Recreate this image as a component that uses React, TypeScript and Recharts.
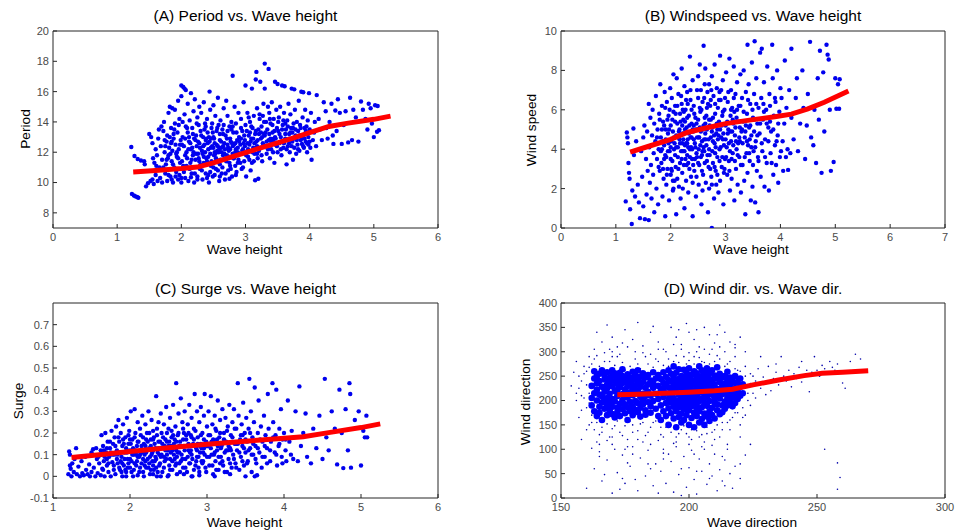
import React from 'react';
import { ScatterChart, Scatter, XAxis, YAxis } from 'recharts';

type Pt = [number, number];

// ---------- (A) Period vs. Wave height ----------
const periodXTicks = [0, 1, 2, 3, 4, 5, 6];
const periodYTicks = [8, 10, 12, 14, 16, 18, 20];
const periodPts: Pt[] = [
  [1.22,12.35],[1.23,9.25],[1.26,9.15],[1.28,9.1],[1.31,9.05],[1.33,9.0],[1.27,11.75],[1.32,11.55],[1.37,11.45],[1.42,11.4],[1.45,9.75],[1.48,9.95],[1.43,11.2],
  [1.5,13.2],[1.53,13.0],[1.55,12.6],[1.52,10.1],[1.55,10.2],[1.57,9.9],[1.58,11.3],[1.6,12.2],[1.6,10.5],[1.62,11.8],[1.63,10.1],[1.64,12.9],[1.65,13.5],[1.66,11.0],[1.67,10.3],[1.68,12.4],[1.69,13.7],[1.7,11.5],[1.7,10.0],[1.61,11.1],[1.56,11.6],
  [1.72,13.4],[1.73,14.0],[1.74,12.0],[1.75,10.6],[1.76,11.2],[1.77,12.7],[1.78,10.1],[1.78,13.1],[1.8,14.6],[1.8,11.8],[1.81,12.3],[1.82,15.0],[1.83,10.4],[1.84,13.6],[1.85,11.4],[1.86,14.9],[1.86,12.1],[1.87,10.0],[1.88,12.9],[1.89,11.0],[1.9,13.9],[1.9,14.8],[1.91,12.5],[1.92,10.7],[1.93,11.7],[1.94,13.3],[1.95,15.4],[1.95,10.2],[1.96,12.2],[1.97,14.2],[1.98,11.3],[1.99,12.8],[2.0,15.7],[2.0,10.0],[1.79,11.6],[1.84,12.6],[1.88,13.2],[1.92,11.9],[1.97,10.5],[1.74,12.8],
  [2.0,16.4],[2.03,16.3],[2.05,16.2],[2.07,16.1],[2.02,13.0],[2.03,11.1],[2.04,12.4],[2.05,14.5],[2.06,10.3],[2.07,13.7],[2.08,12.0],[2.09,11.6],[2.1,15.2],[2.1,13.3],[2.11,10.1],[2.12,12.7],[2.13,14.1],[2.14,11.3],[2.15,15.9],[2.15,12.2],[2.16,10.6],[2.17,13.6],[2.18,11.8],[2.19,14.7],[2.2,12.9],[2.2,10.0],[2.21,15.5],[2.22,11.5],[2.23,13.1],[2.24,12.4],[2.25,14.3],[2.25,10.4],[2.26,11.9],[2.27,13.8],[2.28,12.6],[2.28,15.0],[2.29,10.9],[2.3,13.4],[2.3,11.2],[2.01,12.5],[2.06,11.8],[2.12,13.0],[2.17,12.3],[2.22,12.8],[2.27,11.6],
  [2.31,14.6],[2.32,12.1],[2.33,10.2],[2.34,13.0],[2.35,15.3],[2.35,11.7],[2.36,12.5],[2.37,13.9],[2.38,10.6],[2.39,12.9],[2.4,14.2],[2.4,11.4],[2.41,13.3],[2.42,12.2],[2.43,10.0],[2.44,16.0],[2.44,12.7],[2.45,14.8],[2.46,11.1],[2.47,13.6],[2.48,12.4],[2.49,10.4],[2.5,13.0],[2.5,15.1],[2.51,11.8],[2.52,12.6],[2.53,14.4],[2.54,10.9],[2.55,13.4],[2.55,11.5],[2.56,12.1],[2.57,15.6],[2.58,13.8],[2.59,10.1],[2.6,12.8],[2.6,11.2],[2.33,11.9],[2.38,12.8],[2.42,11.7],[2.46,12.9],[2.5,12.3],[2.53,11.9],[2.57,12.4],[2.36,13.5],[2.48,13.9],[2.58,12.0],[2.45,10.7],[2.52,10.5],
  [2.61,14.1],[2.62,12.3],[2.63,10.6],[2.64,13.5],[2.65,11.8],[2.66,14.9],[2.67,12.6],[2.68,10.2],[2.69,13.1],[2.7,11.4],[2.7,15.4],[2.71,12.9],[2.72,14.4],[2.73,10.8],[2.74,12.1],[2.75,13.7],[2.76,11.1],[2.77,12.7],[2.78,14.0],[2.79,10.4],[2.8,17.05],[2.8,12.4],[2.81,13.3],[2.82,11.6],[2.83,15.0],[2.84,12.0],[2.85,13.9],[2.86,10.7],[2.87,12.8],[2.88,11.3],[2.89,14.6],[2.9,13.0],[2.63,12.0],[2.67,11.5],[2.72,12.5],[2.76,12.2],[2.8,11.9],[2.84,12.6],[2.88,12.3],[2.65,13.2],[2.78,13.5],[2.74,11.7],
  [2.91,11.9],[2.92,12.5],[2.93,14.2],[2.94,10.9],[2.95,13.4],[2.96,12.2],[2.97,15.3],[2.98,11.4],[2.99,12.8],[3.0,16.4],[3.0,13.8],[3.01,10.4],[3.02,12.0],[3.03,14.6],[3.04,11.7],[3.05,13.1],[3.06,12.5],[3.07,14.0],[3.08,10.8],[3.09,12.9],[3.1,16.2],[3.1,11.3],[3.11,13.6],[3.12,12.3],[3.13,14.4],[3.14,11.9],[3.15,10.15],[3.15,13.2],[3.16,16.8],[3.17,12.7],[3.17,17.3],[3.18,14.9],[3.19,11.6],[3.2,10.25],[3.2,13.5],[2.93,12.9],[2.97,12.6],[3.03,12.6],[3.07,13.3],[3.12,12.9],[3.18,12.4],[3.05,14.3],
  [3.21,12.1],[3.22,14.2],[3.22,14.5],[3.23,16.65],[3.24,12.9],[3.25,13.7],[3.26,11.4],[3.27,14.4],[3.27,12.6],[3.28,15.2],[3.29,13.2],[3.3,17.85],[3.3,16.2],[3.31,12.4],[3.32,14.0],[3.33,11.9],[3.34,13.5],[3.35,15.0],[3.36,17.5],[3.36,12.8],[3.37,14.6],[3.38,11.6],[3.39,13.9],[3.4,12.2],[3.41,15.3],[3.42,13.3],[3.43,12.7],[3.44,14.2],[3.45,11.3],[3.46,16.65],[3.46,13.0],[3.47,12.5],[3.48,14.8],[3.49,13.6],[3.5,16.5],[3.5,12.0],[3.24,13.3],[3.3,13.1],[3.39,12.9],[3.44,12.9],
  [3.51,13.4],[3.52,14.3],[3.53,12.6],[3.54,15.0],[3.55,13.0],[3.56,11.8],[3.57,16.4],[3.58,13.8],[3.59,12.3],[3.6,14.6],[3.61,16.35],[3.62,12.9],[3.63,13.5],[3.64,11.2],[3.65,14.1],[3.66,12.4],[3.67,15.2],[3.68,13.2],[3.69,12.0],[3.7,14.5],[3.71,13.6],[3.72,16.2],[3.73,12.7],[3.74,11.5],[3.75,13.9],[3.76,16.15],[3.76,12.3],[3.77,14.8],[3.78,13.1],[3.79,11.9],[3.8,14.0],[3.55,12.2],[3.62,13.9],[3.68,12.6],[3.73,13.3],
  [3.81,12.5],[3.82,13.4],[3.83,15.4],[3.84,12.1],[3.85,13.8],[3.86,12.8],[3.87,15.99],[3.88,12.55],[3.89,14.3],[3.9,13.1],[3.9,15.96],[3.91,12.3],[3.92,13.6],[3.93,14.8],[3.94,12.7],[3.95,13.2],[3.96,12.0],[3.97,14.1],[3.98,12.5],[3.99,15.9],[4.0,13.5],[4.01,12.3],[4.02,14.6],[4.03,11.5],[4.05,12.8],[4.07,13.3],[4.08,14.0],[4.1,12.4],[3.95,13.7],
  [4.11,15.77],[4.14,14.2],[4.16,13.5],[4.19,12.8],[4.22,15.3],[4.25,14.7],[4.28,12.9],[4.31,14.0],[4.34,15.2],[4.37,12.55],[4.4,14.75],[4.44,15.5],[4.47,14.6],[4.5,12.55],[4.53,13.8],[4.56,14.7],[4.6,12.65],[4.63,15.6],[4.66,12.8],[4.68,14.8],[4.72,14.3],[4.76,12.7],[4.8,15.35],[4.83,14.8],[4.87,14.2],[4.9,13.5],[4.92,15.2],[4.95,14.9],[4.97,13.9],[5.0,13.0],[5.02,15.1],[5.05,13.35],[5.06,15.05],[5.08,13.45],[4.26,13.6],[4.36,13.1],[4.42,13.4],
];
// the crowded middle of the period cloud
const periodDense: Pt[] = [
  [1.72,11.0],[1.75,12.4],[1.77,11.5],[1.8,10.5],[1.82,13.0],[1.83,11.9],[1.85,12.7],[1.87,11.2],[1.89,13.5],[1.91,10.4],[1.93,12.0],[1.95,11.6],[1.96,13.8],[1.98,12.5],[2.01,11.4],[2.02,14.0],[2.04,10.7],[2.06,12.9],[2.08,11.1],[2.09,13.6],
  [2.11,12.2],[2.13,10.9],[2.14,12.6],[2.16,11.5],[2.18,13.2],[2.19,12.0],[2.21,10.6],[2.23,11.9],[2.24,13.9],[2.26,12.7],[2.28,11.4],[2.29,12.3],[2.31,13.1],[2.32,10.8],[2.34,12.4],[2.35,11.3],[2.37,12.0],[2.38,13.7],[2.39,11.6],[2.41,12.6],
  [2.42,10.5],[2.43,13.0],[2.45,11.9],[2.46,12.3],[2.47,11.4],[2.49,13.3],[2.5,11.0],[2.51,12.9],[2.52,12.0],[2.54,11.6],[2.55,12.5],[2.56,13.6],[2.57,10.8],[2.59,12.2],[2.6,13.2],[2.61,11.5],[2.62,12.7],[2.64,11.0],[2.65,12.4],[2.66,13.8],
  [2.67,11.9],[2.68,12.2],[2.69,10.6],[2.71,11.8],[2.72,13.4],[2.73,12.3],[2.75,11.3],[2.76,12.9],[2.77,10.9],[2.79,12.6],[2.8,13.7],[2.81,11.6],[2.82,12.5],[2.84,11.1],[2.85,12.2],[2.86,13.3],[2.88,12.0],[2.89,11.5],[2.9,12.7],[2.92,11.3],
  [2.93,13.6],[2.95,12.1],[2.96,11.0],[2.98,13.1],[2.99,12.4],[3.01,11.8],[3.02,13.4],[3.04,12.2],[3.06,11.5],[3.08,12.7],[3.09,13.7],[3.11,12.0],[3.13,11.4],[3.14,12.6],[3.16,13.4],[3.18,11.9],[3.19,12.8],[3.21,13.2],[3.23,12.3],[3.25,11.8],
  [3.26,13.0],[3.28,12.5],[3.29,14.0],[3.31,13.3],[3.33,12.7],[3.35,12.2],[3.37,13.2],[3.38,14.2],[3.4,12.7],[3.42,13.8],[3.43,12.0],[3.45,13.4],[3.47,12.9],[3.49,12.4],[3.51,14.0],[3.53,13.2],[3.55,12.7],[3.57,13.5],[3.59,14.1],[3.6,12.6],
  [3.62,13.2],[3.64,12.2],[3.66,13.7],[3.68,12.9],[3.7,13.3],[3.72,12.4],[3.74,13.6],[3.76,12.9],[3.78,13.5],[3.8,12.8],[3.82,12.2],[3.84,13.1],[3.86,13.6],[3.88,12.9],[3.9,12.4],[3.92,12.9],[3.94,13.4],[3.96,12.6],[3.98,13.0],[4.0,12.7],
  [2.25,10.2],[2.4,10.3],[2.6,10.4],[2.75,10.25],[2.85,10.5],[2.0,10.3],[1.85,10.2],[2.15,10.35],
];
const periodFit: Pt[] = [
  [1.25,10.7],[1.6,10.8],[2.0,10.92],[2.25,11.02],[2.5,11.3],[2.75,11.65],[3.0,11.98],[3.25,12.3],[3.5,12.62],[3.75,12.95],[4.0,13.3],[4.3,13.7],[4.6,13.92],[5.0,14.17],[5.26,14.38],
];

// ---------- (B) Windspeed vs. Wave height ----------
const windXTicks = [0, 1, 2, 3, 4, 5, 6, 7];
const windYTicks = [0, 2, 4, 6, 8, 10];
const windPts: Pt[] = [
  [1.2,4.85],[1.21,4.6],[1.22,4.3],[1.23,3.3],[1.24,2.8],[1.25,2.5],[1.18,1.35],[1.26,0.95],[1.29,0.2],[1.3,1.9],[1.32,5.05],[1.33,3.7],[1.35,1.6],[1.37,4.4],[1.4,2.2],[1.42,1.3],[1.44,0.5],[1.46,3.9],[1.48,2.6],[1.5,4.6],[1.5,1.1],
  [1.52,5.2],[1.53,0.45],[1.55,3.5],[1.56,1.7],[1.57,4.9],[1.58,2.9],[1.6,6.3],[1.6,0.4],[1.61,4.1],[1.62,2.3],[1.63,5.6],[1.64,3.2],[1.65,1.5],[1.66,4.7],[1.67,6.0],[1.68,2.7],[1.69,3.8],[1.7,5.3],[1.7,0.8],[1.72,4.4],[1.73,6.7],[1.74,2.0],[1.75,3.5],[1.76,5.0],[1.77,1.2],[1.78,4.0],[1.79,5.8],[1.8,2.9],
  [1.81,7.3],[1.82,4.6],[1.83,3.3],[1.84,6.2],[1.85,1.6],[1.86,5.4],[1.87,2.5],[1.88,4.2],[1.89,6.9],[1.9,3.7],[1.9,0.6],[1.91,5.0],[1.92,2.2],[1.93,6.4],[1.94,3.0],[1.95,4.8],[1.96,5.7],[1.97,1.4],[1.98,3.9],[1.99,7.1],[2.0,2.7],[2.0,5.2],[2.01,4.4],[2.02,6.6],[2.03,3.4],[2.04,1.9],[2.05,5.9],[2.05,7.8],[2.06,4.0],[2.07,2.4],[2.08,6.2],[2.09,3.1],[2.1,4.7],[2.1,0.7],[1.84,4.0],[1.88,5.2],[1.92,3.6],[1.96,4.3],[2.0,3.5],[2.04,4.9],[2.08,5.4],[1.86,3.0],[1.94,5.5],[2.02,2.9],[2.07,4.3],
  [2.11,7.6],[2.12,5.3],[2.13,3.6],[2.14,6.8],[2.15,2.1],[2.16,4.5],[2.17,5.8],[2.18,1.5],[2.19,3.9],[2.2,8.1],[2.2,6.3],[2.21,2.8],[2.22,4.8],[2.23,5.5],[2.24,3.2],[2.25,7.2],[2.25,1.0],[2.26,4.2],[2.27,6.0],[2.28,2.4],[2.29,5.1],[2.3,3.7],[2.3,6.9],[2.31,4.5],[2.32,1.8],[2.33,5.7],[2.34,3.0],[2.35,8.7],[2.35,4.0],[2.36,6.5],[2.37,2.6],[2.38,5.3],[2.39,3.5],[2.4,7.5],[2.4,0.6],[2.13,4.1],[2.17,3.3],[2.21,4.3],[2.24,5.9],[2.27,3.5],[2.3,4.3],[2.33,4.8],[2.37,4.1],[2.16,5.0],[2.19,6.7],[2.28,6.5],[2.32,3.3],[2.38,4.6],[2.22,3.9],[2.26,5.4],[2.12,2.5],
  [2.41,4.9],[2.42,6.2],[2.43,2.9],[2.44,4.3],[2.45,5.6],[2.46,1.6],[2.47,3.8],[2.48,7.0],[2.49,5.0],[2.5,3.3],[2.5,6.6],[2.51,2.2],[2.52,4.6],[2.53,8.3],[2.54,5.9],[2.55,3.6],[2.56,1.2],[2.57,4.4],[2.58,6.4],[2.59,2.7],[2.6,9.25],[2.6,5.2],[2.61,3.9],[2.62,7.3],[2.63,4.8],[2.64,2.3],[2.65,5.7],[2.66,3.4],[2.67,6.9],[2.68,0.8],[2.69,4.5],[2.7,5.5],[2.7,2.0],[2.44,3.5],[2.47,5.3],[2.51,4.0],[2.55,4.9],[2.58,3.9],[2.62,5.6],[2.65,4.2],[2.69,3.1],[2.42,5.2],[2.53,6.1],[2.57,2.9],[2.61,4.5],[2.66,6.1],[2.48,4.6],[2.5,7.7],[2.63,8.1],
  [2.71,3.7],[2.72,6.2],[2.73,4.6],[2.74,2.6],[2.75,7.7],[2.75,0.0],[2.76,5.1],[2.77,3.3],[2.78,6.7],[2.79,1.5],[2.8,4.3],[2.8,8.3],[2.81,5.8],[2.82,2.9],[2.83,4.8],[2.84,7.1],[2.85,3.6],[2.86,6.1],[2.87,1.8],[2.88,5.4],[2.89,4.0],[2.9,8.75],[2.9,2.4],[2.91,6.5],[2.92,4.6],[2.93,3.1],[2.94,5.7],[2.95,7.5],[2.96,1.2],[2.97,4.2],[2.98,6.0],[2.99,3.5],[3.0,5.2],[2.73,5.5],[2.77,4.4],[2.81,3.8],[2.85,5.0],[2.89,6.9],[2.93,5.2],[2.97,2.8],[2.74,7.0],[2.83,2.2],[2.87,4.7],[2.95,4.5],
  [3.01,7.9],[3.02,4.1],[3.03,2.7],[3.04,6.4],[3.05,5.0],[3.06,3.4],[3.07,8.6],[3.08,1.9],[3.09,5.7],[3.1,4.4],[3.1,7.0],[3.11,2.5],[3.12,6.1],[3.13,3.8],[3.14,5.3],[3.15,8.2],[3.16,1.4],[3.17,4.7],[3.18,6.8],[3.19,3.0],[3.2,5.6],[3.21,7.4],[3.22,2.2],[3.23,4.3],[3.24,6.2],[3.25,3.6],[3.26,5.1],[3.27,7.8],[3.28,1.8],[3.29,4.9],[3.3,6.6],[3.04,4.8],[3.12,4.9],[3.2,4.0],[3.26,4.4],[3.08,3.9],[3.16,5.9],
  [3.31,3.2],[3.32,5.4],[3.33,8.0],[3.34,2.4],[3.35,4.6],[3.36,0.7],[3.37,6.9],[3.38,3.8],[3.39,5.8],[3.4,9.3],[3.4,2.8],[3.41,4.2],[3.42,7.3],[3.43,5.1],[3.44,3.4],[3.45,6.3],[3.46,1.4],[3.47,4.7],[3.48,8.4],[3.49,2.1],[3.5,5.6],[3.51,3.9],[3.52,6.8],[3.53,9.48],[3.54,1.3],[3.55,4.4],[3.56,7.6],[3.57,2.9],[3.58,5.3],[3.59,3.6],[3.6,0.8],[3.6,6.1],[3.36,4.9],[3.44,4.5],[3.52,4.9],
  [3.62,4.8],[3.63,8.9],[3.64,2.6],[3.65,6.6],[3.66,9.1],[3.67,3.9],[3.68,5.5],[3.7,7.4],[3.71,2.1],[3.72,4.5],[3.74,6.0],[3.75,3.3],[3.76,8.2],[3.78,5.1],[3.79,1.9],[3.8,6.8],[3.82,3.8],[3.83,4.9],[3.85,9.3],[3.86,7.6],[3.87,2.7],[3.88,5.7],[3.9,4.2],[3.7,5.9],[3.81,5.4],
  [3.91,6.4],[3.92,3.2],[3.94,8.0],[3.95,4.7],[3.96,2.3],[3.98,5.9],[4.0,7.1],[4.01,3.9],[4.02,6.6],[4.04,4.4],[4.05,2.9],[4.07,5.3],[4.08,8.5],[4.1,3.6],[4.11,6.1],[4.13,4.0],[4.14,2.95],[4.16,7.0],[4.18,3.8],[4.2,9.1],[4.2,5.6],
  [4.24,4.5],[4.28,6.6],[4.3,7.6],[4.32,3.9],[4.36,5.3],[4.4,8.0],[4.42,6.1],[4.45,3.5],[4.48,5.2],[4.5,6.8],[4.54,9.45],[4.56,4.6],[4.6,4.2],[4.62,6.0],[4.65,3.3],[4.68,7.6],[4.7,5.5],[4.72,9.0],[4.75,2.8],[4.78,7.9],[4.8,4.9],[4.84,9.3],[4.86,8.8],[4.88,8.55],[4.9,6.0],[4.92,2.9],[4.97,3.35],[5.0,7.6],[5.02,6.05],[5.05,7.3],[5.07,6.05],[5.08,7.55],
];
// the crowded middle of the wind speed cloud
const windDense: Pt[] = [
  [1.75,4.6],[1.78,3.1],[1.8,5.5],[1.82,3.9],[1.84,5.0],[1.86,4.4],[1.88,3.5],[1.9,6.1],[1.91,4.5],[1.93,2.7],[1.95,3.9],[1.97,5.0],[1.98,6.0],[2.0,4.1],[2.01,3.0],[2.03,5.5],[2.04,2.4],[2.06,4.6],[2.08,3.7],[2.09,5.8],
  [2.1,4.1],[2.12,6.2],[2.14,3.0],[2.15,4.9],[2.17,4.3],[2.18,5.4],[2.2,3.5],[2.21,5.2],[2.22,6.0],[2.23,4.5],[2.25,3.9],[2.26,5.0],[2.28,4.3],[2.29,3.2],[2.3,5.6],[2.31,6.3],[2.32,4.1],[2.34,5.2],[2.35,3.6],[2.36,4.6],
  [2.38,6.0],[2.39,4.0],[2.4,5.0],[2.41,3.2],[2.42,4.5],[2.43,5.8],[2.45,4.1],[2.46,5.0],[2.47,2.6],[2.48,3.6],[2.5,5.5],[2.51,4.6],[2.52,3.2],[2.53,5.1],[2.54,4.2],[2.56,6.0],[2.57,3.7],[2.58,5.0],[2.6,4.1],[2.61,6.6],
  [2.62,3.3],[2.63,5.3],[2.64,4.5],[2.66,5.0],[2.67,3.7],[2.68,6.3],[2.7,4.0],[2.71,5.2],[2.72,3.0],[2.73,6.5],[2.75,4.9],[2.76,3.9],[2.77,5.6],[2.79,4.7],[2.8,3.1],[2.81,6.3],[2.82,4.1],[2.84,5.3],[2.85,2.7],[2.86,4.5],
  [2.88,6.5],[2.89,3.4],[2.9,5.0],[2.91,4.1],[2.92,7.0],[2.94,3.6],[2.95,5.9],[2.96,4.8],[2.98,3.0],[2.99,6.6],[3.0,4.5],[3.01,3.6],[3.03,5.4],[3.05,6.9],[3.06,4.3],[3.07,2.9],[3.09,4.9],[3.1,6.0],[3.11,3.5],[3.13,5.5],
  [3.14,4.2],[3.15,6.6],[3.17,3.4],[3.18,5.1],[3.19,4.4],[3.21,6.0],[3.22,3.7],[3.24,5.4],[3.25,4.6],[3.27,6.2],[3.28,3.2],[3.3,5.0],[3.31,4.3],[3.33,5.9],[3.35,3.6],[3.37,5.2],[3.39,4.4],[3.41,6.5],[3.43,3.8],[3.45,5.2],
  [3.47,4.1],[3.49,6.0],[3.5,3.2],[3.52,5.5],[3.54,4.1],[3.56,6.3],[3.58,4.7],[3.6,3.4],[3.63,5.3],[3.66,4.3],[3.69,6.3],[3.72,3.6],[3.75,5.3],[3.78,4.4],[3.81,6.2],[3.84,3.3],[3.87,5.0],[3.9,6.6],[3.93,4.4],[3.96,5.3],
  [3.99,3.6],[2.05,2.0],[2.22,2.0],[2.4,2.3],[2.58,1.9],[2.75,2.2],[2.36,7.0],[2.55,7.0],[2.7,7.3],
];
const windFit: Pt[] = [
  [1.26,3.85],[1.6,4.15],[2.0,4.5],[2.3,4.85],[2.6,5.05],[3.0,5.3],[3.5,5.5],[3.9,5.65],[4.2,5.78],[4.5,6.05],[4.8,6.38],[5.24,6.95],
];

// ---------- (C) Surge vs. Wave height ----------
const surgeXTicks = [1, 2, 3, 4, 5, 6];
const surgeYTicks = [-0.1, 0, 0.1, 0.2, 0.3, 0.4, 0.5, 0.6, 0.7];
const surgePts: Pt[] = [
  [1.2,0.01],[1.21,0.115],[1.22,0.1],[1.22,0.05],[1.23,0.035],[1.24,0.0],[1.25,0.06],[1.27,0.02],[1.28,0.08],[1.3,0.13],[1.31,0.01],[1.33,0.045],[1.35,0.0],[1.37,0.07],[1.38,0.015],[1.4,0.005],[1.42,0.09],[1.43,0.03],[1.45,0.01],[1.47,0.055],[1.48,0.0],[1.5,0.11],[1.5,0.02],
  [1.52,0.125],[1.53,0.04],[1.55,0.0],[1.56,0.13],[1.57,0.08],[1.58,0.015],[1.6,0.06],[1.61,0.1],[1.62,0.005],[1.63,0.19],[1.64,0.035],[1.65,0.14],[1.66,0.07],[1.67,0.0],[1.68,0.2],[1.69,0.11],[1.7,0.05],[1.71,0.16],[1.72,0.02],[1.73,0.09],[1.74,0.13],[1.75,0.0],[1.76,0.21],[1.77,0.065],[1.78,0.15],[1.79,0.03],[1.8,0.1],[1.8,0.18],[1.59,0.09],[1.66,0.12],[1.7,0.08],[1.75,0.11],
  [1.81,0.01],[1.82,0.23],[1.83,0.12],[1.84,0.06],[1.85,0.26],[1.86,0.16],[1.87,0.03],[1.88,0.2],[1.89,0.09],[1.9,0.0],[1.9,0.14],[1.91,0.24],[1.92,0.05],[1.93,0.11],[1.94,0.18],[1.95,0.02],[1.96,0.27],[1.97,0.08],[1.98,0.15],[1.99,0.21],[2.0,0.04],[2.0,0.12],[2.01,0.3],[2.02,0.07],[2.03,0.17],[2.04,0.0],[2.05,0.1],[2.06,0.31],[2.07,0.2],[2.08,0.05],[2.09,0.14],[2.1,0.25],[2.1,0.09],[1.84,0.1],[1.88,0.07],[1.92,0.15],[1.96,0.11],[2.0,0.17],[2.04,0.13],[2.08,0.1],[1.86,0.04],[1.94,0.03],[2.02,0.02],[1.98,0.06],[2.06,0.06],
  [2.11,0.16],[2.12,0.02],[2.13,0.22],[2.14,0.12],[2.15,0.06],[2.16,0.28],[2.17,0.18],[2.18,0.0],[2.19,0.1],[2.2,0.24],[2.2,0.14],[2.21,0.04],[2.22,0.2],[2.23,0.08],[2.24,0.3],[2.25,0.13],[2.26,0.01],[2.27,0.17],[2.28,0.26],[2.29,0.07],[2.3,0.12],[2.3,0.21],[2.31,0.03],[2.32,0.15],[2.33,0.09],[2.34,0.37],[2.35,0.19],[2.35,0.0],[2.36,0.11],[2.37,0.25],[2.38,0.05],[2.39,0.16],[2.4,0.09],[2.4,0.29],[2.13,0.1],[2.17,0.08],[2.21,0.11],[2.25,0.06],[2.28,0.1],[2.32,0.07],[2.37,0.13],[2.15,0.14],[2.23,0.16],[2.3,0.17],[2.38,0.1],[2.19,0.05],[2.27,0.03],[2.34,0.04],
  [2.41,0.2],[2.42,0.02],[2.43,0.13],[2.44,0.24],[2.45,0.07],[2.46,0.17],[2.47,0.32],[2.48,0.1],[2.49,0.0],[2.5,0.22],[2.5,0.14],[2.51,0.05],[2.52,0.27],[2.53,0.11],[2.54,0.18],[2.55,0.03],[2.56,0.33],[2.57,0.15],[2.58,0.08],[2.59,0.23],[2.6,0.43],[2.6,0.12],[2.61,0.01],[2.62,0.19],[2.63,0.29],[2.64,0.06],[2.65,0.16],[2.66,0.36],[2.67,0.1],[2.68,0.25],[2.69,0.04],[2.7,0.14],[2.7,0.2],[2.44,0.09],[2.48,0.16],[2.52,0.08],[2.55,0.12],[2.58,0.17],[2.62,0.11],[2.66,0.07],[2.69,0.17],[2.46,0.12],[2.54,0.21],[2.6,0.06],[2.64,0.14],[2.42,0.15],
  [2.71,0.3],[2.72,0.08],[2.73,0.17],[2.74,0.02],[2.75,0.24],[2.76,0.12],[2.77,0.33],[2.78,0.06],[2.79,0.19],[2.8,0.1],[2.8,0.27],[2.81,0.0],[2.82,0.15],[2.83,0.22],[2.84,0.38],[2.85,0.05],[2.86,0.13],[2.87,0.3],[2.88,0.18],[2.89,0.09],[2.9,0.25],[2.9,0.02],[2.91,0.14],[2.92,0.32],[2.93,0.07],[2.94,0.2],[2.95,0.11],[2.96,0.28],[2.97,0.38],[2.98,0.04],[2.99,0.16],[3.0,0.23],[3.0,0.09],[2.74,0.14],[2.78,0.11],[2.83,0.17],[2.87,0.12],[2.92,0.15],[2.96,0.13],[2.76,0.2],[2.86,0.07],[2.94,0.06],
  [3.01,0.14],[3.02,0.3],[3.03,0.05],[3.04,0.19],[3.05,0.37],[3.06,0.1],[3.07,0.24],[3.08,0.01],[3.09,0.16],[3.1,0.28],[3.11,0.07],[3.12,0.21],[3.13,0.12],[3.14,0.35],[3.15,0.03],[3.16,0.18],[3.17,0.26],[3.18,0.09],[3.19,0.14],[3.2,0.31],[3.21,0.05],[3.22,0.2],[3.23,0.11],[3.24,0.27],[3.25,0.16],[3.26,0.02],[3.27,0.23],[3.28,0.08],[3.29,0.33],[3.3,0.13],[3.06,0.16],[3.13,0.17],[3.2,0.15],[3.27,0.12],[3.09,0.1],[3.17,0.06],
  [3.31,0.19],[3.32,0.04],[3.33,0.25],[3.34,0.1],[3.35,0.31],[3.36,0.15],[3.37,0.06],[3.38,0.22],[3.39,0.12],[3.4,0.43],[3.41,0.28],[3.42,0.03],[3.43,0.17],[3.44,0.09],[3.45,0.24],[3.46,0.14],[3.47,0.34],[3.48,0.05],[3.49,0.2],[3.5,0.11],[3.51,0.27],[3.52,0.16],[3.53,0.07],[3.54,0.22],[3.55,0.45],[3.56,0.13],[3.57,0.3],[3.58,0.02],[3.59,0.18],[3.6,0.1],[3.62,0.0],[3.65,0.005],[3.38,0.15],[3.46,0.19],
  [3.61,0.25],[3.62,0.41],[3.63,0.14],[3.64,0.06],[3.66,0.2],[3.67,0.35],[3.68,0.11],[3.7,0.23],[3.71,0.04],[3.72,0.16],[3.74,0.28],[3.75,0.09],[3.76,0.19],[3.78,0.13],[3.79,0.38],[3.8,0.22],[3.82,0.07],[3.83,0.16],[3.85,0.43],[3.86,0.25],[3.88,0.11],[3.89,0.19],[3.9,0.4],[3.91,0.05],[3.93,0.14],[3.94,0.22],[3.96,0.31],[3.97,0.09],[3.98,0.17],[4.0,0.2],[4.02,0.12],[4.03,0.07],[4.05,0.35],[4.07,0.16],[4.09,0.1],[4.1,0.21],
  [4.12,0.08],[4.15,0.3],[4.18,0.07],[4.2,0.415],[4.22,0.14],[4.25,0.2],[4.28,0.29],[4.3,0.09],[4.35,0.06],[4.38,0.22],[4.42,0.13],[4.46,0.28],[4.5,0.08],[4.53,0.45],[4.55,0.18],[4.58,0.12],[4.62,0.3],[4.66,0.22],[4.69,0.055],[4.72,0.4],[4.75,0.2],[4.77,0.038],[4.8,0.31],[4.83,0.12],[4.85,0.43],[4.86,0.38],[4.87,0.04],[4.92,0.26],[4.97,0.3],[5.0,0.05],[5.03,0.21],[5.07,0.28],[5.08,0.18],[5.05,0.18],
];
// the crowded lower band of the surge cloud
const surgeDense: Pt[] = [
  [1.62,0.12],[1.65,0.03],[1.67,0.09],[1.7,0.13],[1.72,0.06],[1.74,0.16],[1.77,0.1],[1.79,0.05],[1.81,0.14],[1.83,0.08],[1.85,0.18],[1.87,0.11],[1.89,0.02],[1.9,0.06],[1.91,0.17],[1.93,0.08],[1.95,0.13],[1.97,0.04],[1.98,0.19],[2.0,0.08],
  [2.01,0.15],[2.03,0.1],[2.05,0.03],[2.06,0.18],[2.07,0.12],[2.09,0.07],[2.1,0.16],[2.12,0.09],[2.13,0.04],[2.14,0.19],[2.16,0.11],[2.17,0.02],[2.18,0.15],[2.2,0.07],[2.21,0.17],[2.22,0.12],[2.24,0.04],[2.25,0.2],[2.26,0.09],[2.27,0.14],
  [2.29,0.11],[2.3,0.05],[2.31,0.18],[2.33,0.13],[2.34,0.08],[2.35,0.22],[2.36,0.02],[2.37,0.16],[2.39,0.06],[2.4,0.13],[2.41,0.1],[2.43,0.18],[2.44,0.04],[2.45,0.14],[2.47,0.08],[2.48,0.2],[2.49,0.12],[2.51,0.16],[2.52,0.03],[2.53,0.14],
  [2.55,0.07],[2.56,0.19],[2.57,0.1],[2.59,0.05],[2.6,0.16],[2.61,0.09],[2.63,0.2],[2.64,0.11],[2.65,0.02],[2.67,0.14],[2.68,0.08],[2.69,0.22],[2.71,0.12],[2.72,0.04],[2.73,0.19],[2.75,0.09],[2.76,0.15],[2.77,0.06],[2.79,0.12],[2.8,0.18],
  [2.81,0.08],[2.83,0.03],[2.84,0.14],[2.85,0.21],[2.87,0.09],[2.88,0.15],[2.89,0.04],[2.91,0.11],[2.92,0.19],[2.93,0.13],[2.95,0.07],[2.96,0.17],[2.97,0.1],[2.99,0.02],[3.0,0.14],[3.02,0.19],[3.03,0.09],[3.05,0.13],[3.07,0.05],[3.08,0.17],
  [3.1,0.11],[3.11,0.22],[3.12,0.03],[3.14,0.14],[3.15,0.09],[3.17,0.2],[3.18,0.13],[3.2,0.07],[3.22,0.17],[3.23,0.02],[3.25,0.12],[3.26,0.21],[3.28,0.14],[3.3,0.06],[3.31,0.12],[3.33,0.18],[3.35,0.08],[3.36,0.22],[3.38,0.04],[3.4,0.15],
  [3.42,0.11],[3.44,0.19],[3.46,0.07],[3.48,0.13],[3.5,0.17],[3.52,0.06],[3.54,0.12],[3.56,0.2],[3.58,0.1],[3.6,0.15],[3.63,0.08],[3.66,0.13],[3.69,0.17],[3.72,0.09],[3.75,0.14],[3.78,0.06],[3.82,0.12],[3.86,0.18],[3.9,0.1],[3.94,0.15],
  [3.98,0.06],[4.02,0.17],[2.1,0.005],[2.3,0.01],[2.5,0.005],[2.7,0.01],[2.9,0.005],[3.1,0.0],[3.3,0.01],[3.5,0.0],[1.95,0.0],[2.4,0.0],[2.8,0.0],
];
const surgeFit: Pt[] = [
  [1.24,0.087],[1.6,0.1],[2.0,0.115],[2.5,0.132],[3.0,0.148],[3.5,0.162],[4.0,0.176],[4.25,0.183],[4.6,0.203],[5.0,0.225],[5.25,0.242],
];

// ---------- (D) Wind dir. vs. Wave dir. ----------
const dirXTicks = [150, 200, 250, 300];
const dirYTicks = [0, 50, 100, 150, 200, 250, 300, 350, 400];
// dense core of the direction cloud
const dirCore: Pt[] = [
  [162,205],[162,230],[162,190],[163,245],[163,215],[163,178],[163,260],[164,200],[164,235],[164,168],[164,250],[164,222],[165,187],[165,255],[165,212],[165,240],[165,175],
  [166,228],[166,196],[166,262],[166,208],[166,160],[167,243],[167,183],[167,218],[167,252],[167,200],[168,170],[168,232],[168,205],[168,258],[168,190],[168,225],
  [169,246],[169,214],[169,180],[169,238],[169,196],[170,262],[170,203],[170,229],[170,172],[170,251],[170,187],[171,219],[171,240],[171,165],[171,198],[171,256],
  [172,185],[172,234],[172,209],[172,248],[172,176],[172,222],[173,257],[173,193],[173,227],[173,168],[173,241],[174,213],[174,250],[174,182],[174,236],[174,201],[174,264],
  [175,174],[175,223],[175,244],[175,192],[175,210],[176,238],[176,160],[176,254],[176,206],[176,186],[176,229],[177,197],[177,247],[177,217],[177,178],[177,234],
  [178,259],[178,211],[178,188],[178,242],[178,170],[178,224],[179,231],[179,199],[179,252],[179,181],[179,214],[180,243],[180,176],[180,220],[180,262],[180,195],[180,235],
  [181,207],[181,249],[181,185],[181,228],[181,167],[182,238],[182,214],[182,192],[182,256],[182,201],[183,180],[183,226],[183,247],[183,209],[183,171],
  [184,233],[184,197],[184,252],[184,218],[185,188],[185,241],[185,210],[185,175],[186,226],[186,258],[186,199],[186,236],[187,214],[187,183],[187,245],[188,203],[188,230],[188,168],[188,252],
  [189,221],[189,190],[189,244],[189,160],[190,236],[190,207],[190,178],[190,258],[190,225],[191,195],[191,248],[191,168],[191,215],[191,232],
  [192,262],[192,184],[192,227],[192,203],[192,150],[192,242],[193,211],[193,239],[193,174],[193,255],[193,196],[193,224],[194,187],[194,248],[194,163],[194,230],[194,205],[194,270],
  [195,219],[195,178],[195,257],[195,238],[195,195],[195,145],[195,228],[196,244],[196,200],[196,166],[196,212],[196,264],[196,186],[196,232],
  [197,226],[197,155],[197,250],[197,192],[197,240],[197,208],[197,173],[198,263],[198,215],[198,182],[198,236],[198,199],[198,248],[198,160],[198,222],
  [199,205],[199,244],[199,170],[199,229],[199,190],[199,257],[199,214],[200,236],[200,150],[200,198],[200,266],[200,218],[200,180],[200,247],[200,226],
  [201,188],[201,253],[201,208],[201,164],[201,232],[201,242],[201,196],[202,221],[202,175],[202,260],[202,203],[202,238],[202,145],[202,214],
  [203,247],[203,193],[203,228],[203,168],[203,256],[203,210],[203,183],[204,235],[204,155],[204,216],[204,270],[204,199],[204,244],[204,178],[204,226],
  [205,204],[205,250],[205,186],[205,232],[205,162],[205,219],[205,262],[206,241],[206,173],[206,213],[206,258],[206,195],[206,228],[206,150],
  [207,222],[207,189],[207,248],[207,167],[207,235],[207,206],[207,266],[208,256],[208,199],[208,230],[208,178],[208,214],[208,244],[208,158],
  [209,212],[209,240],[209,185],[209,262],[209,226],[209,170],[210,233],[210,196],[210,251],[210,163],[210,218],[210,205],[211,245],[211,180],[211,224],[211,210],[211,268],[211,192],
  [212,204],[212,238],[212,172],[212,255],[212,221],[213,229],[213,190],[213,247],[213,213],[213,176],[214,216],[214,250],[214,198],[214,235],[214,183],
  [215,241],[215,205],[215,226],[215,190],[215,259],[216,212],[216,233],[216,196],[216,247],[217,224],[217,188],[217,240],[217,206],[218,236],[218,214],[218,195],[218,250],
  [219,220],[219,203],[219,238],[220,228],[220,210],[220,245],[221,215],[221,233],
];
// scattered directions around the core, the far outliers and the trail past 220
const dirSpread: Pt[] = [
  [157,225],[158,240],[159,205],[160,260],[160,185],[161,215],[161,150],[162,275],[162,170],[163,140],[163,285],[164,155],[165,270],[165,130],[166,145],[167,280],[168,152],[169,125],[170,290],[170,142],
  [171,272],[172,158],[173,135],[174,278],[175,148],[176,120],[177,270],[178,150],[179,285],[180,138],[181,265],[182,155],[183,128],[184,275],[185,145],[186,268],[187,158],[188,280],[189,130],[190,272],
  [191,145],[192,285],[193,135],[194,280],[195,125],[196,278],[197,140],[198,290],[199,132],[200,282],[201,120],[202,275],[203,138],[204,288],[205,130],[206,278],[207,145],[208,295],[209,135],[210,280],
  [211,150],[212,285],[213,140],[214,270],[215,155],[216,280],[217,165],[218,265],[219,175],[220,260],[221,185],[222,250],[223,200],[224,235],[222,170],[220,150],[218,290],[216,140],[214,300],[212,125],
  [209,305],[206,115],[203,300],[200,110],[197,305],[194,112],[191,300],[188,118],[185,295],[182,115],[179,300],[176,105],[173,295],[170,110],[167,298],[164,115],[161,290],[158,120],[156,280],[155,258],[156,200],[157,165],[154,230],
  [158,210],[159,255],[160,232],[161,195],[161,268],[162,155],[163,228],[164,292],[166,135],[167,262],[168,118],[169,280],[171,148],[172,290],[174,128],[175,262],[177,158],[178,135],[180,275],[181,152],
  [183,290],[184,135],[186,155],[187,285],[189,145],[190,125],[192,270],[193,150],[195,292],[196,132],[198,148],[199,275],[201,140],[202,290],[204,125],[205,280],[207,132],[208,275],[210,140],[211,292],
  [213,155],[215,275],[216,160],[218,175],[219,262],[221,165],[222,270],[224,190],[225,250],[223,215],[160,140],[165,110],[170,125],[175,100],[180,120],[185,110],[190,100],[195,115],[200,125],[205,105],
  [210,120],[215,110],[220,125],[170,300],[176,310],[182,298],[188,305],[194,315],[200,298],[206,305],[212,310],[218,315],[157,250],[158,180],[159,270],[156,215],[163,305],
  [160,20],[163,60],[165,95],[166,35],[168,78],[170,10],[171,100],[172,52],[174,88],[175,30],[177,65],[178,105],[180,15],[181,82],[183,45],[184,98],[186,25],[187,70],[189,55],[190,92],
  [191,30],[193,75],[194,12],[195,105],[196,48],[198,85],[199,22],[200,62],[201,98],[202,38],[203,8],[204,80],[205,55],[206,100],[207,28],[208,70],[209,45],[210,90],[211,15],[212,58],
  [213,35],[214,78],[215,100],[216,50],[217,20],[218,65],[220,40],[222,88],[224,110],[167,48],[173,18],[179,38],[185,60],[192,90],[197,5],[203,55],[209,108],[214,25],[162,102],[176,72],[188,10],
  [165,85],[178,90],[190,80],[202,90],[213,85],[197,60],[184,70],[208,40],[174,40],[220,70],
  [164,340],[166,320],[168,355],[170,330],[172,310],[175,345],[178,325],[180,360],[182,312],[185,340],[188,320],[190,305],[193,350],[195,330],[197,315],[199,358],[200,340],[202,325],[204,310],[206,350],
  [208,335],[210,318],[212,355],[214,340],[216,320],[218,308],[220,330],[222,300],[174,318],[186,352],[203,345],[211,335],[169,305],[196,345],
  [223,230],[224,255],[225,215],[226,240],[227,265],[228,225],[229,248],[230,235],[231,270],[232,220],[233,245],[234,258],[235,232],[236,290],[237,250],[238,240],[239,262],[240,228],[241,255],[242,245],
  [243,268],[244,238],[245,252],[246,262],[247,218],[248,258],[249,290],[250,262],[251,250],[252,272],[253,265],[254,258],[255,280],[256,268],[257,262],[258,275],[260,236],[261,225],[263,280],[265,295],
  [267,285],[253,100],[258,72],[259,42],[258,18],[228,290],[234,275],[244,280],[226,205],[230,212],
];
const dirFit: Pt[] = [
  [172,212],[180,213],[190,215],[200,217],[210,220],[217,223],[225,232],[235,242],[245,251],[252,256],[260,258],[270,261],
];

// ---------- drawing ----------
const FONT = '"Liberation Sans", Arial, Helvetica, sans-serif';
const AXIS_COLOR = '#262626';
const TICK_COLOR = '#4a4a4a';
const FIT_COLOR = '#ff0000';
const MARK = '#0000ee';
const Y_AXIS_W = 40;
const X_AXIS_H = 30;
const EDGE = 4;

const toRows = (pts: Pt[]) => pts.map(([x, y]) => ({ x, y }));

const dotShape = (r: number, fill: string) => (p: any) =>
  <circle cx={p.cx} cy={p.cy} r={r} fill={fill} />;
const noShape = () => <g />;

interface Cloud { pts: Pt[]; r: number; fill: string }

interface PanelProps {
  left: number; top: number; width: number; height: number;
  plot: [number, number, number, number]; // local left, top, right, bottom
  xDomain: [number, number]; xTicks: number[];
  yDomain: [number, number]; yTicks: number[];
  clouds: Cloud[]; fit: Pt[];
}

function Panel(props: PanelProps) {
  const { left, top, width, height, plot, xDomain, xTicks, yDomain, yTicks, clouds, fit } = props;
  const margin = {
    left: plot[0] - Y_AXIS_W,
    top: plot[1] - EDGE,
    right: width - plot[2] - EDGE,
    bottom: height - plot[3] - X_AXIS_H,
  };
  const tickStyle = { fill: TICK_COLOR, fontSize: 11, fontFamily: FONT };
  const line = { stroke: AXIS_COLOR, strokeWidth: 1 };
  return (
    <div style={{ position: 'absolute', left, top }}>
      <ScatterChart width={width} height={height} margin={margin}>
        <XAxis type="number" dataKey="x" domain={xDomain} ticks={xTicks} interval={0}
          height={X_AXIS_H} tickSize={-4} tickMargin={9} tick={tickStyle}
          axisLine={line} tickLine={line} allowDataOverflow />
        <XAxis xAxisId="top" orientation="top" type="number" dataKey="x" domain={xDomain} ticks={xTicks}
          interval={0} height={EDGE} tickSize={-4} tick={false} axisLine={line} tickLine={line} allowDataOverflow />
        <YAxis type="number" dataKey="y" domain={yDomain} ticks={yTicks} interval={0}
          width={Y_AXIS_W} tickSize={-4} tickMargin={8} tick={tickStyle}
          axisLine={line} tickLine={line} allowDataOverflow />
        <YAxis yAxisId="right" orientation="right" type="number" dataKey="y" domain={yDomain} ticks={yTicks}
          interval={0} width={EDGE} tickSize={-4} tick={false} axisLine={line} tickLine={line} allowDataOverflow />
        {clouds.map((c, i) => (
          <Scatter key={i} data={toRows(c.pts)} shape={dotShape(c.r, c.fill)} isAnimationActive={false} legendType="none" />
        ))}
        <Scatter data={toRows(fit)} shape={noShape} line={{ stroke: FIT_COLOR, strokeWidth: 5 }}
          isAnimationActive={false} legendType="none" />
      </ScatterChart>
    </div>
  );
}

function Caption({ text, x, y, size, rotate }: { text: string; x: number; y: number; size: number; rotate?: boolean }) {
  return (
    <div style={{
      position: 'absolute', left: x, top: y, fontFamily: FONT, fontSize: size, lineHeight: 1,
      color: '#000', whiteSpace: 'nowrap',
      transform: `translate(-50%, -50%)${rotate ? ' rotate(-90deg)' : ''}`,
    }}>{text}</div>
  );
}

export default function App() {
  return (
    <div style={{ position: 'absolute', left: 0, top: 0, width: 955, height: 531, background: '#fff', overflow: 'hidden' }}>
      <Panel left={0} top={0} width={478} height={265} plot={[53, 31, 438, 228]}
        xDomain={[0, 6]} xTicks={periodXTicks} yDomain={[7, 20]} yTicks={periodYTicks}
        clouds={[{ pts: periodPts, r: 2.2, fill: MARK }, { pts: periodDense, r: 2.2, fill: MARK }]} fit={periodFit} />
      <Panel left={478} top={0} width={477} height={265} plot={[83, 31, 467, 228]}
        xDomain={[0, 7]} xTicks={windXTicks} yDomain={[0, 10]} yTicks={windYTicks}
        clouds={[{ pts: windPts, r: 2.2, fill: MARK }, { pts: windDense, r: 2.2, fill: MARK }]} fit={windFit} />
      <Panel left={0} top={265} width={478} height={266} plot={[53, 38, 438, 233]}
        xDomain={[1, 6]} xTicks={surgeXTicks} yDomain={[-0.1, 0.8]} yTicks={surgeYTicks}
        clouds={[{ pts: surgePts, r: 2.2, fill: MARK }, { pts: surgeDense, r: 2.2, fill: MARK }]} fit={surgeFit} />
      <Panel left={478} top={265} width={477} height={266} plot={[83, 38, 467, 233]}
        xDomain={[150, 300]} xTicks={dirXTicks} yDomain={[0, 400]} yTicks={dirYTicks}
        clouds={[{ pts: dirSpread, r: 0.8, fill: '#0000aa' }, { pts: dirCore, r: 3.3, fill: '#0000ff' }]} fit={dirFit} />

      <Caption text="(A) Period vs. Wave height" x={245.5} y={15.7} size={15.5} />
      <Caption text="(B) Windspeed vs. Wave height" x={753} y={15.7} size={15.5} />
      <Caption text="(C) Surge vs. Wave height" x={245.5} y={289} size={15.5} />
      <Caption text="(D) Wind dir. vs. Wave dir." x={753} y={289} size={15.5} />

      <Caption text="Wave height" x={244.5} y={250} size={13.7} />
      <Caption text="Wave height" x={751} y={250} size={13.7} />
      <Caption text="Wave height" x={244.5} y={522.7} size={13.7} />
      <Caption text="Wave direction" x={752} y={522.7} size={13.7} />

      <Caption text="Period" x={25.5} y={129} size={13.7} rotate />
      <Caption text="Wind speed" x={532} y={130} size={13.7} rotate />
      <Caption text="Surge" x={19} y={401} size={13.7} rotate />
      <Caption text="Wind direction" x={526} y={402} size={13.7} rotate />
    </div>
  );
}
